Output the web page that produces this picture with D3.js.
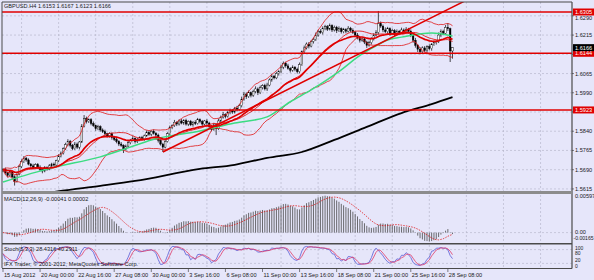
<!DOCTYPE html>
<html>
<head>
<meta charset="utf-8">
<script src="https://cdn.jsdelivr.net/npm/d3@7"></script>
<style>
body { margin: 0; background: #e6e6fa; }
svg { display: block; }
text { font-family: "Liberation Sans", Arial, sans-serif; font-size: 5.6px; fill: #1a1a1a; }
</style>
</head>
<body>
<div id="chart"></div>
<script>
// GBPUSD H4, 15 Aug 2012 08:00 .. 28 Sep 2012 16:00 (open = previous close)
const firstOpen = 1.5685;
const closes = [
  1.5690,1.5678,1.5668,1.5682,1.5662,1.5645,1.5672,1.5702,1.5721,1.5735,
  1.5728,1.5712,1.5705,1.5698,1.5710,1.5700,1.5690,1.5685,1.5698,1.5692,
  1.5705,1.5712,1.5708,1.5725,1.5742,1.5755,1.5772,1.5788,1.5800,1.5785,
  1.5772,1.5790,1.5778,1.5798,1.5860,1.5890,1.5878,1.5885,1.5870,1.5862,
  1.5850,1.5858,1.5845,1.5838,1.5830,1.5822,1.5830,1.5815,1.5808,1.5800,
  1.5790,1.5785,1.5770,1.5782,1.5795,1.5805,1.5812,1.5800,1.5808,1.5815,
  1.5810,1.5822,1.5835,1.5828,1.5840,1.5832,1.5825,1.5805,1.5790,1.5778,
  1.5800,1.5830,1.5855,1.5862,1.5875,1.5868,1.5880,1.5872,1.5882,1.5868,
  1.5878,1.5865,1.5875,1.5870,1.5885,1.5878,1.5868,1.5880,1.5872,1.5858,
  1.5848,1.5865,1.5850,1.5880,1.5895,1.5905,1.5898,1.5912,1.5920,1.5915,
  1.5930,1.5925,1.5940,1.5965,1.5985,1.5975,1.5990,1.5980,1.5995,1.6005,
  1.5990,1.6010,1.6018,1.6005,1.6020,1.6040,1.6055,1.6048,1.6065,1.6072,
  1.6090,1.6105,1.6095,1.6085,1.6078,1.6090,1.6082,1.6072,1.6100,1.6150,
  1.6165,1.6180,1.6172,1.6190,1.6198,1.6215,1.6230,1.6225,1.6240,1.6248,
  1.6238,1.6252,1.6235,1.6245,1.6232,1.6240,1.6228,1.6236,1.6230,1.6242,
  1.6234,1.6225,1.6215,1.6205,1.6195,1.6200,1.6188,1.6175,1.6185,1.6200,
  1.6215,1.6225,1.6260,1.6250,1.6235,1.6228,1.6240,1.6222,1.6232,1.6218,
  1.6230,1.6225,1.6235,1.6228,1.6238,1.6230,1.6215,1.6195,1.6175,1.6160,
  1.6150,1.6165,1.6155,1.6170,1.6162,1.6178,1.6185,1.6190,1.6215,1.6230,
  1.6222,1.6245,1.6240,1.6153,1.6166
];
// wick lengths above / below the body, in pips
const wickUp = [
  6,8,4,7,5,6,4,7,9,8, 5,6,4,8,5,6,7,4,6,5, 7,5,6,4,8,6,5,7,9,6, 5,8,6,4,8,13,7,5,6,8,
  4,7,5,6,8,4,6,5,7,6, 5,8,4,6,7,5,9,4,6,5, 7,5,8,6,4,7,5,6,4,5, 8,6,7,5,9,4,6,8,5,7,
  4,6,5,8,7,5,6,4,7,5, 6,8,5,9,6,10,5,7,8,6, 5,9,7,10,8,6,9,5,7,10, 6,8,5,7,9,6,8,5,7,6,
  10,7,6,8,5,7,4,6,8,5, 9,6,8,5,7,10,6,8,9,7, 6,8,5,7,6,9,5,7,6,8, 5,7,6,8,4,7,6,5,8,6,
  7,9,49,8,6,10,7,5,8,6, 7,5,9,6,8,5,7,6,9,5, 8,6,7,5,9,6,8,5,10,7, 6,9,17,4,1
];
const wickDn = [
  5,7,8,4,6,17,5,4,6,5, 7,5,8,6,4,7,6,9,5,6, 4,7,5,6,5,4,6,5,7,8, 6,5,7,9,4,5,8,6,7,5,
  8,6,7,5,9,6,7,8,6,7, 8,6,15,5,7,6,5,8,6,7, 5,7,4,6,8,5,7,9,6,19, 5,4,6,7,5,8,6,5,7,6,
  8,5,7,6,4,7,8,6,9,7, 8,6,25,5,7,6,8,5,6,7, 6,8,5,7,6,9,5,8,6,7, 9,5,7,6,8,5,7,6,5,8,
  6,8,7,5,9,6,8,7,6,5, 7,6,9,5,8,6,7,5,8,6, 7,5,8,6,9,5,7,6,8,5, 7,6,8,7,9,6,8,10,5,7,
  6,5,8,7,9,6,8,10,6,7, 5,8,6,7,5,9,8,10,9,11, 10,8,7,9,6,8,5,7,6,8, 7,5,9,43,30
];

// slow moving averages (bar index, price)
const greenIdx = [0, 21, 42, 54, 64, 85, 100, 114, 124, 133, 146, 153, 160, 166, 172, 185, 194];
const greenVal = [1.5642,1.5697,1.5740,1.5775,1.5806,1.5841,1.5872,1.5896,1.5955,1.6001,1.6079,1.6129,1.6168,1.6196,1.6207,1.6223,1.6211];
const blackIdx = [0, 25, 42, 57, 85, 100, 114, 129, 143, 157, 172, 185, 194];
const blackVal = [1.5572,1.5607,1.5627,1.5646,1.5693,1.5709,1.5736,1.5759,1.5806,1.5857,1.5911,1.5946,1.5973];

// objects drawn on the chart
const levels = [1.6305, 1.6144, 1.5923];
const trendIdx = [69, 169];
const trendVal = [1.5759, 1.6211];
const bidPrice = 1.6166;

// axis ticks
const priceTicks = [1.6290, 1.6215, 1.6140, 1.6065, 1.5990, 1.5915, 1.5840, 1.5765, 1.5690, 1.5615];
const timeIdx = [0, 16, 32, 48, 64, 80, 96, 112, 128, 144, 160, 176, 192];
const timeLabels = ["15 Aug 2012", "20 Aug 00:00", "22 Aug 16:00", "27 Aug 08:00", "30 Aug 00:00", "3 Sep 16:00",
  "6 Sep 08:00", "11 Sep 00:00", "13 Sep 16:00", "18 Sep 08:00", "21 Sep 00:00", "25 Sep 16:00", "28 Sep 08:00"];
const macdTicks = [0.00597, 0, -0.00165];
const macdTickText = ["0.00597", "0.00", "-0.00165"];
const stochTicks = [100, 80, 20, 0];

const W = 594, H = 280;
const plotL = 2, plotR = 572;
const mainTop = 2, mainBot = 191;
const macdTop = 195, macdBot = 243;
const stTop = 245, stBot = 268;
const pip = 0.0001;

// ---- bars + indicators
const bars = closes.map((c, i) => {
  const o = i ? closes[i - 1] : firstOpen;
  return { i, o, c, h: Math.max(o, c) + wickUp[i] * pip, l: Math.min(o, c) - wickDn[i] * pip };
});

function sma(arr, n) {
  return arr.map((_, i) => d3.mean(arr.slice(Math.max(0, i - n + 1), i + 1)));
}
function ema(arr, n) {
  const k = 2 / (n + 1);
  let prev = arr[0];
  return arr.map((v, i) => (prev = i ? v * k + prev * (1 - k) : v));
}
const bbMid = sma(closes, 20);
const bbDev = closes.map((_, i) => {
  const s = closes.slice(Math.max(0, i - 19), i + 1);
  const m = d3.mean(s);
  return Math.sqrt(d3.mean(s, v => (v - m) * (v - m)));
});
const bbUp = bbMid.map((m, i) => m + 2 * bbDev[i]);
const bbLo = bbMid.map((m, i) => m - 2 * bbDev[i]);
const emaRed = ema(closes, 21);

const ema12 = ema(closes, 12), ema26 = ema(closes, 26);
const macd = ema12.map((v, i) => v - ema26[i]);
const macdSig = sma(macd, 9);

const raw = bars.map((b, i) => {
  const w = bars.slice(Math.max(0, i - 4), i + 1);
  const ll = d3.min(w, d => d.l), hh = d3.max(w, d => d.h);
  return { num: b.c - ll, den: hh - ll };
});
const stK = raw.map((_, i) => {
  const w = raw.slice(Math.max(0, i - 2), i + 1);
  return 100 * d3.sum(w, d => d.num) / d3.sum(w, d => d.den);
});
const stD = sma(stK, 3);

// ---- scales
const x = d3.scaleLinear().domain([0, closes.length - 1]).range([3, 452.5]);
const yP = d3.scaleLinear().domain([1.5603, 1.6344]).range([192, 2]);
const yM = d3.scaleLinear().domain([-0.00165, 0.00597]).range([macdBot, macdTop]);
const yS = d3.scaleLinear().domain([0, 100]).range([stBot, stTop]);

const svg = d3.select("#chart").append("svg").attr("width", W).attr("height", H);
svg.append("rect").attr("width", W).attr("height", H).attr("fill", "#e6e6fa");

const defs = svg.append("defs");
[["cMain", mainTop, mainBot], ["cMacd", macdTop, macdBot], ["cSt", stTop, stBot]].forEach(([id, t, b]) => {
  defs.append("clipPath").attr("id", id).append("rect")
    .attr("x", plotL).attr("y", t).attr("width", plotR - plotL).attr("height", b - t);
});

// grid
const gridX = d3.range(8, 260, 16).map(i => x(i)).filter(v => v < plotR);
const grid = svg.append("g").attr("stroke", "#b2b2c6").attr("stroke-width", 0.6).attr("stroke-dasharray", "2,2");
[[mainTop, mainBot], [macdTop, macdBot], [stTop, stBot]].forEach(([t, b]) => {
  grid.selectAll(null).data(gridX).enter().append("line")
    .attr("x1", d => d).attr("x2", d => d).attr("y1", t).attr("y2", b);
});
grid.selectAll(null).data(priceTicks).enter().append("line")
  .attr("x1", plotL).attr("x2", plotR).attr("y1", d => yP(d)).attr("y2", d => yP(d));
grid.append("line").attr("x1", plotL).attr("x2", plotR).attr("y1", yM(0)).attr("y2", yM(0));
grid.selectAll(null).data([80, 20]).enter().append("line")
  .attr("x1", plotL).attr("x2", plotR).attr("y1", d => yS(d)).attr("y2", d => yS(d));

// ---- main panel
const main = svg.append("g").attr("clip-path", "url(#cMain)");
const candles = main.append("g");
candles.selectAll("line").data(bars).enter().append("line")
  .attr("x1", d => x(d.i)).attr("x2", d => x(d.i))
  .attr("y1", d => yP(d.h)).attr("y2", d => yP(d.l))
  .attr("stroke", "#000").attr("stroke-width", 0.7);
candles.selectAll("rect").data(bars).enter().append("rect")
  .attr("x", d => x(d.i) - 0.8).attr("width", 1.6)
  .attr("y", d => yP(Math.max(d.o, d.c)))
  .attr("height", d => Math.max(0.6, yP(Math.min(d.o, d.c)) - yP(Math.max(d.o, d.c))))
  .attr("fill", d => d.c >= d.o ? "#ffffff" : "#000000")
  .attr("stroke", "#000").attr("stroke-width", 0.4);

const line = d3.line().x((d, i) => x(i)).y(d => yP(d));
[[bbUp, 0.8], [bbLo, 0.8], [bbMid, 0.9]].forEach(([s, w]) => {
  main.append("path").attr("d", line(s)).attr("fill", "none").attr("stroke", "#e01818").attr("stroke-width", w);
});
const sparse = d3.line().x(d => x(d[0])).y(d => yP(d[1])).curve(d3.curveMonotoneX);
main.append("path").attr("d", sparse(greenIdx.map((v, i) => [v, greenVal[i]])))
  .attr("fill", "none").attr("stroke", "#3cdc82").attr("stroke-width", 1.5);
main.append("path").attr("d", sparse(blackIdx.map((v, i) => [v, blackVal[i]])))
  .attr("fill", "none").attr("stroke", "#000").attr("stroke-width", 1.8);
main.append("path").attr("d", line(emaRed)).attr("fill", "none").attr("stroke", "#e00000").attr("stroke-width", 1.7);

// trend line (ray)
const slope = (trendVal[1] - trendVal[0]) / (trendIdx[1] - trendIdx[0]);
const rayEnd = 260;
main.append("line")
  .attr("x1", x(trendIdx[0])).attr("y1", yP(trendVal[0]))
  .attr("x2", x(rayEnd)).attr("y2", yP(trendVal[0] + slope * (rayEnd - trendIdx[0])))
  .attr("stroke", "#e00000").attr("stroke-width", 1.5);

// horizontal levels
main.selectAll(".lvl").data(levels).enter().append("line")
  .attr("x1", plotL).attr("x2", plotR).attr("y1", d => yP(d)).attr("y2", d => yP(d))
  .attr("stroke", "#e00000").attr("stroke-width", 1.4);

// ---- MACD panel
const mg = svg.append("g").attr("clip-path", "url(#cMacd)");
mg.selectAll("line").data(macd).enter().append("line")
  .attr("x1", (d, i) => x(i)).attr("x2", (d, i) => x(i))
  .attr("y1", yM(0)).attr("y2", d => yM(d))
  .attr("stroke", "#4a4a4a").attr("stroke-width", 0.8);
mg.append("path")
  .attr("d", d3.line().x((d, i) => x(i)).y(d => yM(d))(macdSig))
  .attr("fill", "none").attr("stroke", "#e00000").attr("stroke-width", 0.7).attr("stroke-dasharray", "1.5,1.2");

// ---- Stochastic panel
const sg = svg.append("g").attr("clip-path", "url(#cSt)");
const sline = d3.line().x((d, i) => x(i)).y(d => yS(d));
sg.append("path").attr("d", sline(stK)).attr("fill", "none").attr("stroke", "#5a5ad6").attr("stroke-width", 0.8);
sg.append("path").attr("d", sline(stD)).attr("fill", "none").attr("stroke", "#e03a6a").attr("stroke-width", 0.8);

// ---- frames
const frame = svg.append("g").attr("stroke", "#4a4a4a").attr("fill", "none");
frame.append("line").attr("x1", plotL).attr("x2", plotL).attr("y1", mainTop).attr("y2", stBot).attr("stroke-width", 1);
frame.append("line").attr("x1", plotL).attr("x2", plotR).attr("y1", mainTop).attr("y2", mainTop).attr("stroke-width", 1);
frame.append("line").attr("x1", plotR).attr("x2", plotR).attr("y1", mainTop).attr("y2", stBot + 0.5).attr("stroke-width", 1.2);
svg.append("rect").attr("x", plotL).attr("y", mainBot).attr("width", plotR - plotL).attr("height", 3).attr("fill", "#8c8c8c");
frame.append("line").attr("x1", plotL).attr("x2", plotR).attr("y1", macdBot + 0.8).attr("y2", macdBot + 0.8).attr("stroke-width", 1.4);
frame.append("line").attr("x1", plotL).attr("x2", plotR).attr("y1", stBot + 0.5).attr("y2", stBot + 0.5).attr("stroke-width", 1);

// ---- right price axis (labels hidden under a price tag are skipped,
//      labels peeking out from under one are nudged just below it)
const tags = levels.map(v => ({ v, fill: "#e00000" })).concat([{ v: bidPrice, fill: "#000000" }]);
const shownTicks = priceTicks.filter(p => !tags.some(t => Math.abs(yP(t.v) - yP(p)) < 3));
function tickY(p) {
  const near = tags.find(t => Math.abs(yP(t.v) - yP(p)) < 6);
  return near ? yP(near.v) + 3.5 + 4.3 : yP(p) + 2;
}
const ax = svg.append("g");
ax.selectAll("line").data(priceTicks).enter().append("line")
  .attr("x1", plotR).attr("x2", plotR + 2).attr("y1", d => yP(d)).attr("y2", d => yP(d))
  .attr("stroke", "#333").attr("stroke-width", 0.6);
ax.selectAll("text").data(shownTicks).enter().append("text")
  .attr("x", plotR + 3).attr("y", d => tickY(d)).text(d => d.toFixed(4));

const tag = svg.append("g").selectAll("g").data(tags).enter().append("g");
tag.append("rect").attr("x", plotR + 1).attr("y", d => yP(d.v) - 3.5).attr("width", 21).attr("height", 7).attr("fill", d => d.fill);
tag.append("text").attr("x", plotR + 3).attr("y", d => yP(d.v) + 2).style("fill", "#fff").text(d => d.v.toFixed(4));

// MACD / stoch axis text
svg.append("g").selectAll("text").data(macdTicks).enter().append("text")
  .attr("x", (d, i) => i === 2 ? plotR + 1.5 : plotR + 3)
  .attr("y", (d, i) => [198, 233.5, 240][i])
  .style("font-size", (d, i) => i === 2 ? "5.1px" : null)
  .text((d, i) => macdTickText[i]);
const stochY = [249.5, 255, 262, 267.5];
svg.append("g").selectAll("text").data(stochTicks).enter().append("text")
  .attr("x", plotR + 3).attr("y", (d, i) => stochY[i]).style("font-size", "5px").text(d => d);

// ---- time axis
const tx = svg.append("g");
tx.selectAll("line").data(timeIdx).enter().append("line")
  .attr("x1", d => x(d)).attr("x2", d => x(d)).attr("y1", stBot + 1).attr("y2", stBot + 4)
  .attr("stroke", "#333").attr("stroke-width", 0.6);
tx.selectAll("text").data(timeIdx).enter().append("text")
  .attr("x", d => x(d) + 1).attr("y", 276.5).text((d, i) => timeLabels[i]);

// ---- panel captions
svg.append("text").attr("x", 4).attr("y", 8).text("GBPUSD.H4  1.6153 1.6167 1.6123 1.6166");
svg.append("text").attr("x", 4).attr("y", 201).text("MACD(12,26,9) -0.00041 0.00002");
svg.append("text").attr("x", 4).attr("y", 251).text("Stoch(5,3,3) 28.4316 40.2911");
svg.append("text").attr("x", 4).attr("y", 266).text("IFX Trader, \u00a9 2001-2012, MetaQuotes Software Corp.");
</script>
</body>
</html>
